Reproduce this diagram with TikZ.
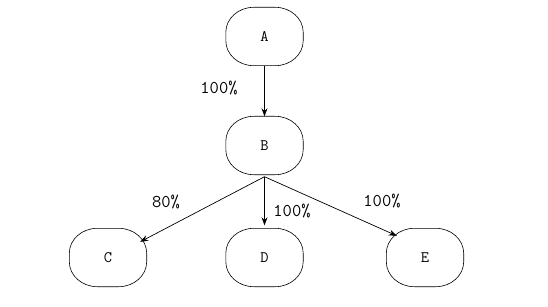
\documentclass[tikz,border=0pt]{standalone}
\usepackage{fontspec}
\usetikzlibrary{arrows.meta}
\newcommand\roundbox[1]{\draw[line width=0.6pt]
  ([yshift=-25pt]#1.north west) arc[start angle=180,end angle=90,x radius=28pt,y radius=25pt]
  -- ([xshift=-28pt]#1.north east) arc[start angle=90,end angle=0,x radius=28pt,y radius=25pt]
  -- ([yshift=25pt]#1.south east) arc[start angle=0,end angle=-90,x radius=28pt,y radius=25pt]
  -- ([xshift=28pt]#1.south west) arc[start angle=270,end angle=180,x radius=28pt,y radius=25pt]
  -- cycle;}
\begin{document}
\begin{tikzpicture}[x=1pt,y=-1pt,
  state/.style={minimum width=77pt,minimum height=58pt,inner sep=0pt,font=\ttfamily\fontsize{16}{16}\selectfont},
  conn/.style={-{Stealth[length=8pt,width=6pt]},line width=0.7pt},
  lbl/.style={font=\ttfamily\fontsize{18}{18}\selectfont,inner sep=0pt}]
\useasboundingbox (0,0) rectangle (548,307);
\node[state] (A) at (264.5,36.5) {A};
\node[state] (B) at (264.5,145.5) {B};
\node[state] (C) at (108,257.5) {C};
\node[state] (D) at (264.5,257.5) {D};
\node[state] (E) at (425,257.5) {E};
\roundbox{A}\roundbox{B}\roundbox{C}\roundbox{D}\roundbox{E}
\coordinate (Bout) at ([yshift=-2pt]B.south);
\draw[conn] (A) -- (B);
\draw[conn] (Bout) -- ([shift={(-6.5pt,-13.5pt)}]C.north east);
\draw[conn,shorten >=3pt] (Bout) -- (D);
\draw[conn] (Bout) -- ([shift={(10.5pt,-7.5pt)}]E.north west);
\node[lbl] (l1) at (219,88) {100\%};
\node[lbl] (l2) at (166,202) {80\%};
\node[lbl] (l3) at (292,211) {100\%};
\node[lbl] (l4) at (382,201) {100\%};
\end{tikzpicture}
\end{document}
